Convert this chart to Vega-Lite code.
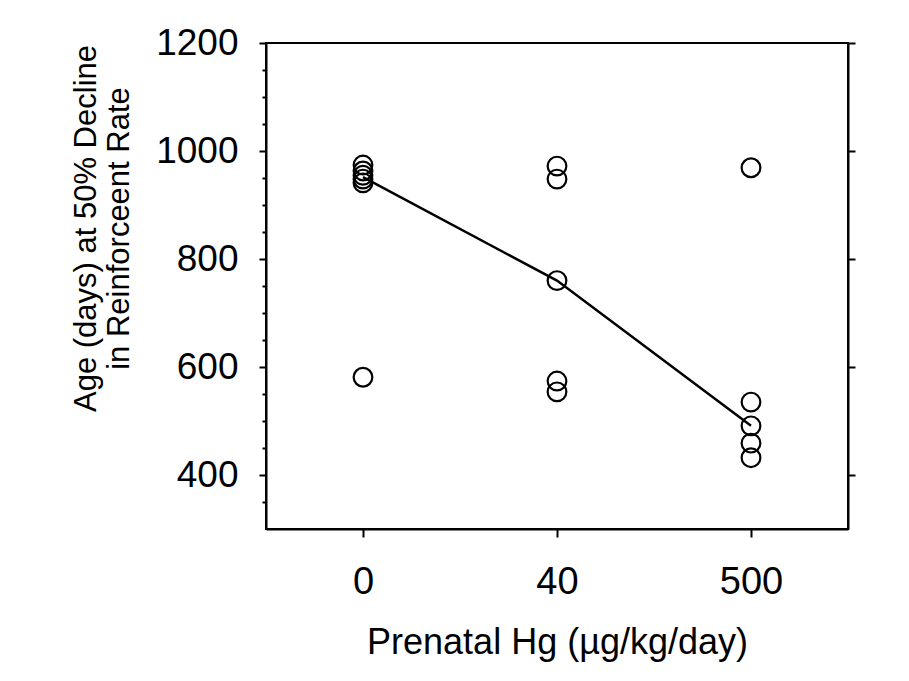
{
  "$schema": "https://vega.github.io/schema/vega-lite/v6.json",
  "autosize": {"type": "none"},
  "padding": {"left": 266, "top": 43, "right": 61, "bottom": 152},
  "width": 582,
  "height": 486,
  "background": "white",
  "config": {
    "view": {"stroke": "black", "strokeWidth": 2},
    "font": "Liberation Sans",
    "axis": {"domainColor": "black", "domainWidth": 2, "tickColor": "black", "tickWidth": 2, "labelColor": "black", "titleColor": "black", "labelFont": "Liberation Sans", "titleFont": "Liberation Sans", "titleFontWeight": "normal", "grid": false}
  },
  "data": {
    "values": [
      {"dose": "0", "age": 974},
      {"dose": "0", "age": 963},
      {"dose": "0", "age": 955},
      {"dose": "0", "age": 948},
      {"dose": "0", "age": 941},
      {"dose": "0", "age": 581},
      {"dose": "40", "age": 972},
      {"dose": "40", "age": 948},
      {"dose": "40", "age": 760},
      {"dose": "40", "age": 574},
      {"dose": "40", "age": 554},
      {"dose": "500", "age": 969},
      {"dose": "500", "age": 535},
      {"dose": "500", "age": 491},
      {"dose": "500", "age": 459},
      {"dose": "500", "age": 432}
    ]
  },
  "layer": [
    {
      "mark": {"type": "point", "shape": "circle", "filled": false, "stroke": "black", "strokeWidth": 2.2, "size": 350, "opacity": 1},
      "encoding": {
        "x": {"field": "dose", "type": "ordinal", "sort": ["0", "40", "500"],
          "scale": {"type": "point", "padding": 0.5},
          "axis": {"title": "Prenatal Hg (µg/kg/day)", "titleFontSize": 36, "titleBaseline": "alphabetic", "titleY": 124, "labelFontSize": 38, "labelAngle": 0, "tickSize": 8, "labelPadding": 26}},
        "y": {"field": "age", "type": "quantitative",
          "scale": {"domain": [300, 1200], "nice": false, "zero": false},
          "axis": {"orient": "left", "title": ["Age (days) at 50% Decline", "in Reinforceent Rate"], "titleFontSize": 31, "titleLineHeight": 33, "titleX": -195, "titleY": 185, "titleAlign": "center", "titleBaseline": "top", "titleAngle": -90,
            "values": [350, 400, 450, 500, 550, 600, 650, 700, 750, 800, 850, 900, 950, 1000, 1050, 1100, 1150, 1200],
            "format": "d",
            "labelExpr": "datum.value % 200 === 0 ? datum.label : ''",
            "labelFontSize": 37, "labelPadding": 21,
            "tickSize": {"condition": {"test": "datum.value % 200 !== 0", "value": 4}, "value": 7}}}
      }
    },
    {
      "mark": {"type": "line", "stroke": "black", "strokeWidth": 2.5},
      "encoding": {
        "x": {"field": "dose", "type": "ordinal", "sort": ["0", "40", "500"]},
        "y": {"field": "age", "type": "quantitative", "aggregate": "median",
          "axis": {"orient": "right", "title": null, "labels": false, "values": [400, 600, 800, 1000, 1200], "tickSize": 7}}
      }
    }
  ],
  "resolve": {"axis": {"y": "independent"}}
}
